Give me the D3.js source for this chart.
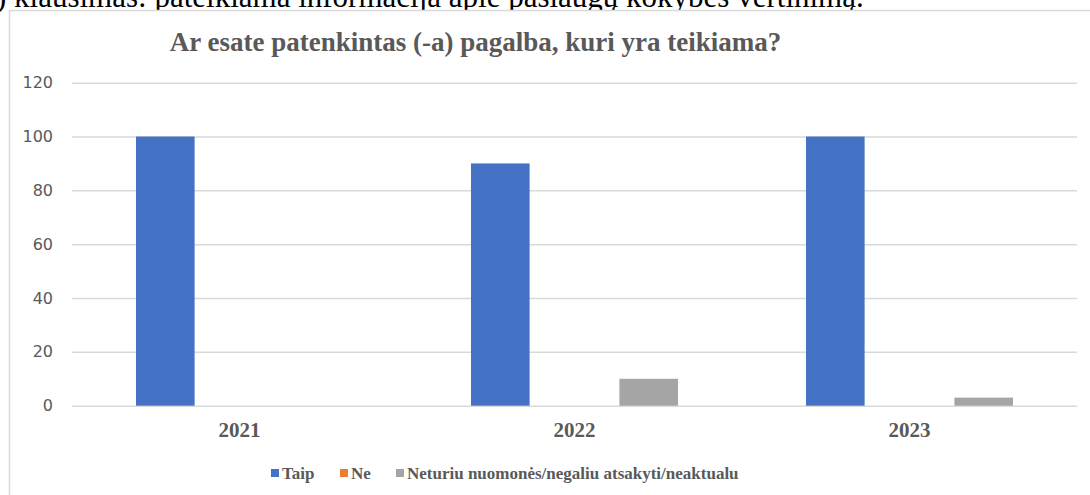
<!DOCTYPE html>
<html>
<head>
<meta charset="utf-8">
<script src="https://cdn.jsdelivr.net/npm/d3@7"></script>
<style>
  html, body { margin: 0; padding: 0; background: #fff; }
  svg { display: block; }
</style>
</head>
<body>
<svg id="chart" width="1090" height="495"></svg>
<script>
const categories = ["2021", "2022", "2023"];
const seriesNames = ["Taip", "Ne", "Neturiu nuomonės/negaliu atsakyti/neaktualu"];
const taip = [100, 90, 100];
const ne = [0, 0, 0];
const neturiu = [0, 10, 3];
const yTicks = [0, 20, 40, 60, 80, 100, 120];
const colors = ["#4472C4", "#ED7D31", "#A5A5A5"];

const seriesValues = [taip, ne, neturiu];
const data = categories.map((c, i) => ({
  cat: c,
  vals: seriesNames.map((s, j) => ({ key: s, value: seriesValues[j][i], color: colors[j] }))
}));

const svg = d3.select("#chart");

// cut-off document text above the chart
svg.append("text")
  .attr("x", -4).attr("y", 7)
  .attr("font-family", "'Liberation Serif', 'Times New Roman', serif")
  .attr("font-size", 31)
  .attr("fill", "#000")
  .text(") klausimas: pateikiama informacija apie paslaugų kokybės vertinimą.");

// chart border
svg.append("rect")
  .attr("x", 9.5).attr("y", 10.5)
  .attr("width", 1200).attr("height", 600)
  .attr("fill", "#fff")
  .attr("stroke", "#d9d9d9").attr("stroke-width", 1.5);

const plot = { left: 72, right: 1077, top: 82.7, bottom: 405.7 };

const y = d3.scaleLinear().domain([0, 120]).range([plot.bottom, plot.top]);
const x0 = d3.scaleBand().domain(categories).range([plot.left, plot.right])
  .paddingInner(0.382).paddingOuter(0.191);
const x1 = d3.scaleBand().domain(seriesNames).range([0, x0.bandwidth()]).paddingInner(0.21);

// gridlines
const yAxis = d3.axisLeft(y).tickValues(yTicks).tickSize(-(plot.right - plot.left)).tickPadding(19);
const gy = svg.append("g").attr("transform", `translate(${plot.left},0)`).call(yAxis);
gy.select(".domain").remove();
gy.selectAll(".tick line").attr("stroke", "#d9d9d9").attr("stroke-width", 1.5);
gy.selectAll(".tick text")
  .attr("fill", "#595959")
  .attr("font-family", "'DejaVu Sans', sans-serif")
  .attr("font-size", 16);

// bars
const groups = svg.append("g").selectAll("g").data(data).join("g")
  .attr("transform", d => `translate(${x0(d.cat)},0)`);
groups.selectAll("rect").data(d => d.vals).join("rect")
  .attr("x", d => x1(d.key))
  .attr("width", x1.bandwidth())
  .attr("y", d => y(d.value))
  .attr("height", d => y(0) - y(d.value))
  .attr("fill", d => d.color);

// x axis labels
const xAxis = d3.axisBottom(x0).tickSize(0).tickPadding(0);
const gx = svg.append("g").attr("transform", `translate(0,${plot.bottom})`).call(xAxis);
gx.select(".domain").remove();
gx.selectAll(".tick text")
  .attr("y", 31).attr("dy", 0)
  .attr("fill", "#595959")
  .attr("font-family", "'Liberation Serif', 'Times New Roman', serif")
  .attr("font-weight", "bold")
  .attr("font-size", 21);

// title
svg.append("text")
  .attr("x", 475.5).attr("y", 51)
  .attr("text-anchor", "middle")
  .attr("fill", "#595959")
  .attr("font-family", "'Liberation Serif', 'Times New Roman', serif")
  .attr("font-weight", "bold")
  .attr("font-size", 27)
  .text("Ar esate patenkintas (-a) pagalba, kuri yra teikiama?");

// legend
const legendX = [271, 340, 396];
const legend = svg.append("g").selectAll("g").data(seriesNames).join("g")
  .attr("transform", (d, i) => `translate(${legendX[i]},469)`);
legend.append("rect").attr("width", 8).attr("height", 8).attr("fill", (d, i) => colors[i]);
legend.append("text")
  .attr("x", 11).attr("y", 10)
  .attr("fill", "#595959")
  .attr("font-family", "'Liberation Serif', 'Times New Roman', serif")
  .attr("font-weight", "bold")
  .attr("font-size", 17)
  .text(d => d);
</script>
</body>
</html>
